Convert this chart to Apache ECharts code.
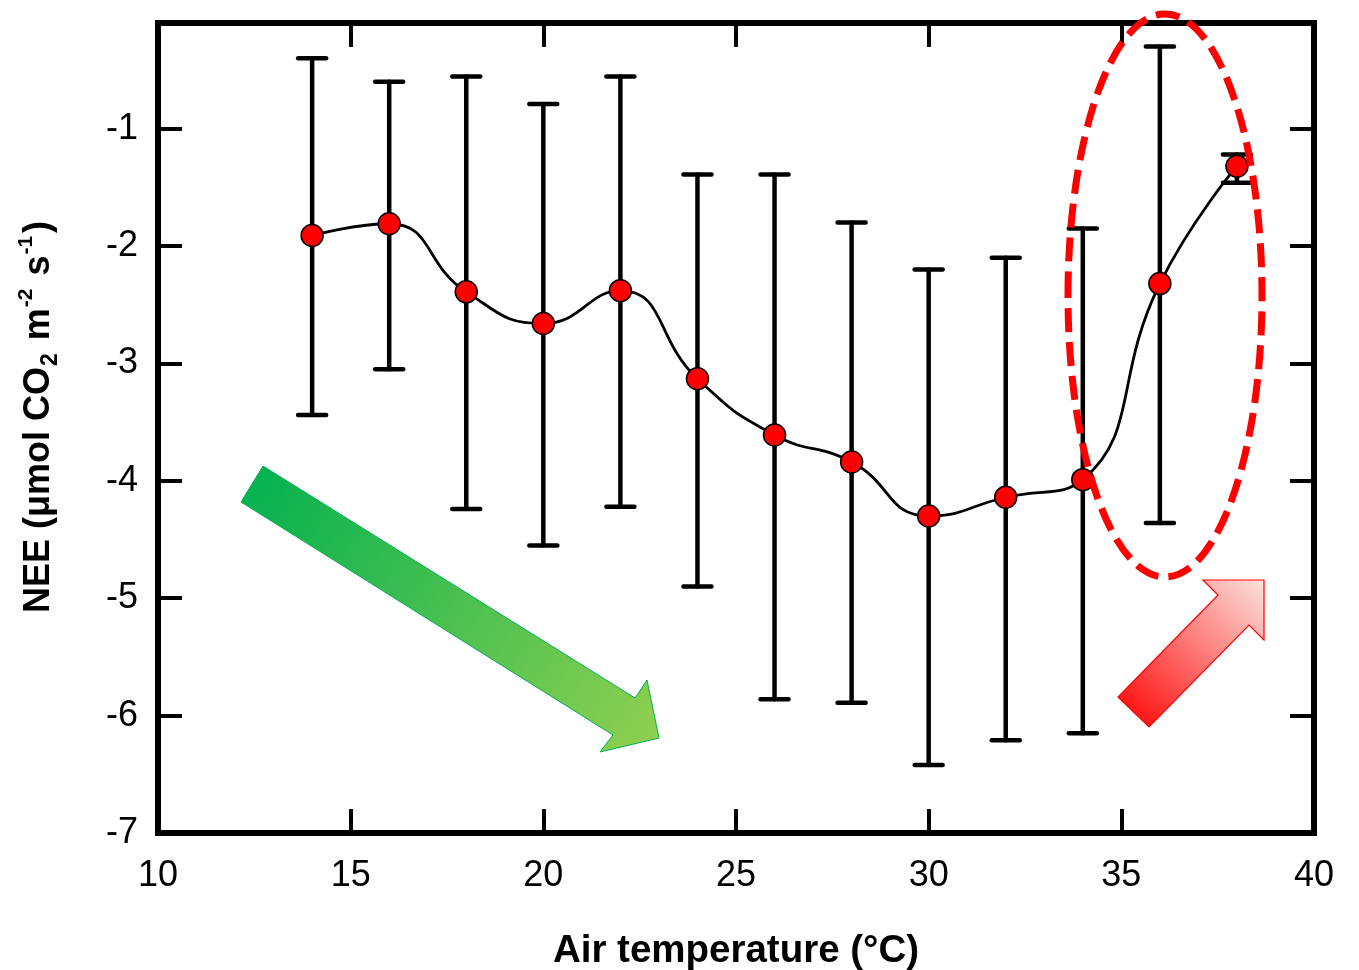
<!DOCTYPE html>
<html>
<head>
<meta charset="utf-8">
<script src="https://cdn.jsdelivr.net/npm/echarts@6/dist/echarts.min.js"></script>
<style>
html,body{margin:0;padding:0;background:#fff;}
#chart{width:1359px;height:970px;}
</style>
</head>
<body>
<div id="chart"></div>
<script>
// Air temperature (°C)
var temps = [14, 16, 18, 20, 22, 24, 26, 28, 30, 32, 34, 36, 38];
// NEE mean
var neeMean = [-1.91, -1.81, -2.39, -2.66, -2.38, -3.13, -3.61, -3.84, -4.30, -4.14, -3.99, -2.32, -1.32];
// error bar upper / lower
var errHigh = [-0.40, -0.60, -0.555, -0.79, -0.555, -1.39, -1.39, -1.80, -2.20, -2.10, -1.85, -0.30, -1.22];
var errLow = [-3.44, -3.05, -4.24, -4.55, -4.22, -4.90, -5.86, -5.89, -6.42, -6.21, -6.15, -4.36, -1.46];
// tick labels
var xTickLabels = [10, 15, 20, 25, 30, 35, 40];
var xTickMarks = [15, 20, 25, 30, 35];
var yTickLabels = [-7, -6, -5, -4, -3, -2, -1];
var yTickMarks = [-6, -5, -4, -3, -2, -1];

var lineData = temps.map(function (t, i) { return [t, neeMean[i]]; });
var errData = temps.map(function (t, i) { return [t, errLow[i], errHigh[i]]; });

var chart = echarts.init(document.getElementById('chart'), null, {renderer: 'canvas'});
var FONT = '"Liberation Sans", Arial, sans-serif';

function xAxisCfg(pos, show) {
  return {
    type: 'value', min: 10, max: 40, interval: 5, position: pos,
    axisLine: {show: false},
    splitLine: {show: false},
    axisTick: {show: true, inside: true, length: 24, customValues: xTickMarks,
      lineStyle: {color: '#000', width: 4}},
    axisLabel: {show: show, customValues: xTickLabels, fontSize: 36, margin: 25,
      color: '#000', fontFamily: FONT}
  };
}
function yAxisCfg(pos, show) {
  return {
    type: 'value', min: -7, max: -0.1, interval: 1, position: pos,
    axisLine: {show: false},
    splitLine: {show: false},
    axisTick: {show: true, inside: true, length: 24, customValues: yTickMarks,
      lineStyle: {color: '#000', width: 4}},
    axisLabel: {show: show, customValues: yTickLabels, fontSize: 36, margin: 20,
      color: '#000', fontFamily: FONT}
  };
}

var xa = xAxisCfg('bottom', true);
xa.name = 'Air temperature (°C)';
xa.nameLocation = 'middle';
xa.nameGap = 99;
xa.nameTextStyle = {fontSize: 38.5, fontWeight: 'bold', color: '#000', fontFamily: FONT};
var xb = xAxisCfg('top', false);

var ya = yAxisCfg('left', true);
ya.name = '{b|NEE (μmol CO}{sub|2}{b| m}{sup|-2}{b| s}{sup|-1}{b|)}';
ya.nameLocation = 'middle';
ya.nameRotate = 90;
ya.nameGap = 96;
ya.nameTextStyle = {
  color: '#000', fontFamily: FONT, fontWeight: 'bold', fontSize: 36,
  padding: [0, 0, 0, 22],
  rich: {
    b: {fontSize: 36, fontWeight: 'bold', color: '#000', fontFamily: FONT, lineHeight: 46},
    sub: {fontSize: 23, fontWeight: 'bold', color: '#000', fontFamily: FONT, verticalAlign: 'bottom', lineHeight: 18, padding: [0, 3, 0, 1]},
    sup: {fontSize: 21, fontWeight: 'bold', color: '#000', fontFamily: FONT, verticalAlign: 'top', lineHeight: 18, padding: [0, 3, 0, 1]}
  }
};
var yb = yAxisCfg('right', false);

var option = {
  backgroundColor: '#fff',
  animation: false,
  grid: {left: 158, right: 45, top: 23, bottom: 137, show: true, outerBoundsMode: 'none',
    containLabel: false,
    borderColor: '#000', borderWidth: 6, backgroundColor: 'transparent'},
  xAxis: [xa, xb],
  yAxis: [ya, yb],
  series: [
    {
      type: 'custom',
      xAxisIndex: 0, yAxisIndex: 0,
      data: errData,
      encode: {x: 0, y: [1, 2]},
      z: 2,
      renderItem: function (params, api) {
        var x = api.value(0);
        var lo = api.coord([x, api.value(1)]);
        var hi = api.coord([x, api.value(2)]);
        var hw = 14;
        var st = {stroke: '#000', lineWidth: 4.5, lineCap: 'round'};
        return {
          type: 'group',
          children: [
            {type: 'line', shape: {x1: lo[0], y1: lo[1], x2: hi[0], y2: hi[1]}, style: st},
            {type: 'line', shape: {x1: lo[0] - hw, y1: lo[1], x2: lo[0] + hw, y2: lo[1]}, style: st},
            {type: 'line', shape: {x1: hi[0] - hw, y1: hi[1], x2: hi[0] + hw, y2: hi[1]}, style: st}
          ]
        };
      }
    },
    {
      type: 'line',
      xAxisIndex: 0, yAxisIndex: 0,
      data: lineData,
      smooth: 0.5,
      z: 3,
      symbol: 'circle',
      symbolSize: 22,
      itemStyle: {color: '#ff0000', borderColor: '#000', borderWidth: 1.5},
      lineStyle: {color: '#000', width: 2.8}
    }
  ],
  graphic: [
    {
      type: 'polygon', z: 100,
      shape: {points: [[241, 502], [263, 466], [635, 698], [647, 680], [659, 738], [600, 752], [613, 735]]},
      style: {
        fill: {type: 'linear', x: 0, y: 0, x2: 1, y2: 1,
          colorStops: [{offset: 0, color: '#00b050'}, {offset: 1, color: '#92d050'}]},
        stroke: '#00b050', lineWidth: 1
      }
    },
    {
      type: 'polygon', z: 100,
      shape: {points: [[1118, 697], [1149, 727], [1249, 625], [1264, 640], [1264, 580], [1203, 580], [1218, 595]]},
      style: {
        fill: {type: 'linear', x: 0, y: 1, x2: 1, y2: 0,
          colorStops: [{offset: 0, color: '#ff0000'}, {offset: 1, color: '#fbe2de'}]},
        stroke: '#ff0000', lineWidth: 1.2
      }
    },
    {
      type: 'ellipse', z: 100,
      shape: {cx: 1165, cy: 295.5, rx: 97, ry: 281.5},
      style: {fill: null, stroke: '#ff0000', lineWidth: 7, lineDash: [24, 10]}
    }
  ]
};
chart.setOption(option);
</script>
</body>
</html>
